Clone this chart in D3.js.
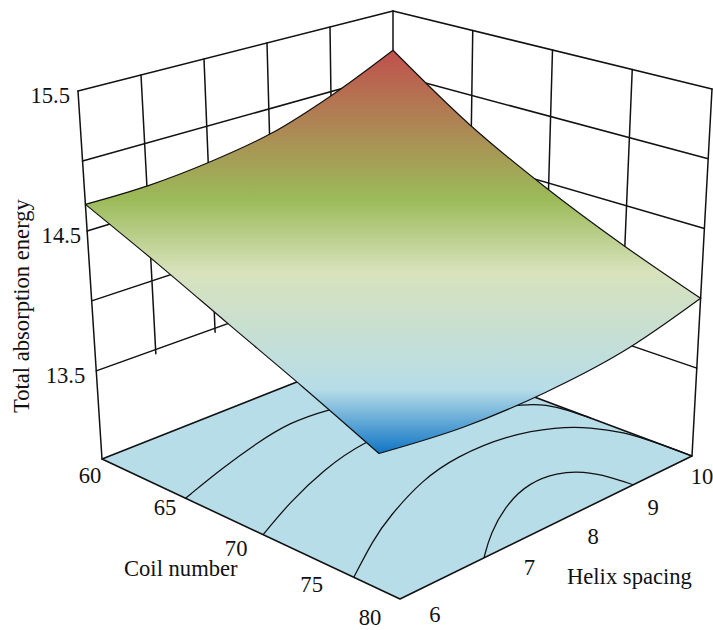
<!DOCTYPE html>
<html>
<head>
<meta charset="utf-8">
<script src="https://cdn.jsdelivr.net/npm/d3@7/dist/d3.min.js"></script>
<style>
  body { margin: 0; background: #fff; }
  text { font-family: "Liberation Serif", serif; font-size: 22.6px; fill: #111; }
</style>
</head>
<body>
<div id="viz-container"></div>
<script>
var coilTicks = [60, 65, 70, 75, 80];
var helixTicks = [6, 7, 8, 9, 10];
var helixGrid = [6, 6.8, 7.6, 8.4, 9.2, 10];
var energyGrid = [13.5, 14, 14.5, 15, 15.5];
var energyLabels = [15.5, 14.5, 13.5];

// surface height along its four edges
var edgeCoil60 = [14.69, 14.69, 14.73, 14.81, 14.97, 15.19]; // over helixGrid
var edgeHelix10 = [15.19, 14.77, 14.46, 14.21, 14.0];        // over coilTicks
var edgeCoil80 = [13.76, 13.72, 13.74, 13.82, 14.0];         // over helixTicks
var edgeHelix6 = [14.69, 14.44, 14.2, 13.98, 13.76];         // over coilTicks

// floor contours, [coil, helix]
var contourA = [[66.1, 6], [64.9, 6.68], [64, 7.29], [63.4, 7.84], [63.6, 8.31], [64.5, 9], [66, 10]];
var contourB = [[71.4, 6], [69.9, 6.61], [68.5, 7.32], [67.6, 8.03], [67.8, 8.7], [70, 9.8], [71.1, 9.94], [72.2, 9.99], [73.7, 10]];
var contourC = [[77.2, 6], [75.3, 6.62], [74.2, 7.05], [72.6, 7.82], [72, 8.42], [72.1, 9.12], [73.2, 9.61], [74.4, 9.83], [75.9, 9.97], [77.8, 10], [80, 10]];
var contourD = [[80, 7.06], [78.6, 7.45], [77.1, 8.01], [76.4, 8.48], [76.6, 8.82], [77.4, 9.02], [78.7, 9.1], [80, 9.12]];

// box corners on screen: left, front, right, back
var floorCorners = [[102, 459], [400, 599], [692, 456], [393, 344]];
var topCorners = [[78, 91], [397, 169], [712, 89], [393, 11]];

// label nudges from the axis point
var coilNudge = [[-12, 24], [-5, 24], [-6, 31], [-7, 31], [-30, 26]];
var helixNudge = [[35, 23], [50, 15], [39, 21], [28, 26], [10, 28]];
var energyNudge = [[-8, 12], [-6, 12], [-11, 12]];

var coilScale = d3.scaleLinear().domain([60, 80]).range([0, 1]);
var helixScale = d3.scaleLinear().domain([6, 10]).range([0, 1]);
var energyScale = d3.scaleLinear().domain([12.87, 15.5]).range([0, 1]);

// unit square -> quad
function makeHomography(q) {
	var dx1 = q[1][0] - q[2][0], dx2 = q[3][0] - q[2][0], sx = q[0][0] - q[1][0] + q[2][0] - q[3][0];
	var dy1 = q[1][1] - q[2][1], dy2 = q[3][1] - q[2][1], sy = q[0][1] - q[1][1] + q[2][1] - q[3][1];
	var det = dx1 * dy2 - dx2 * dy1;
	var g = (sx * dy2 - dx2 * sy) / det;
	var h = (dx1 * sy - sx * dy1) / det;
	return function(u, v) {
		var w = g * u + h * v + 1;
		return [
			((q[1][0] - q[0][0] + g * q[1][0]) * u + (q[3][0] - q[0][0] + h * q[3][0]) * v + q[0][0]) / w,
			((q[1][1] - q[0][1] + g * q[1][1]) * u + (q[3][1] - q[0][1] + h * q[3][1]) * v + q[0][1]) / w
		];
	};
}

var floorMap = makeHomography(floorCorners);
var topMap = makeHomography(topCorners);

function project(coil, helix, energy) {
	var u = coilScale(coil), v = helixScale(helix);
	var a = floorMap(u, v), b = topMap(u, v);
	var t = energy === undefined ? 0 : energyScale(energy);
	return [a[0] + (b[0] - a[0]) * t, a[1] + (b[1] - a[1]) * t];
}

// the surface's front corner sits left of the floor corner in the figure
function projectSurface(coil, helix, energy) {
	var p = project(coil, helix, energy);
	p[0] -= 20 * coilScale(coil) * (1 - helixScale(helix));
	return p;
}

// grid on the walls is evenly spaced between the wall's ends
function between(a, b, t) {
	return [a[0] + (b[0] - a[0]) * t, a[1] + (b[1] - a[1]) * t];
}
function leftWall(helix, energy) {
	return between(project(60, 6, energy), project(60, 10, energy), helixScale(helix));
}
function rightWall(coil, energy) {
	return between(project(60, 10, energy), project(80, 10, energy), coilScale(coil));
}

var svg = d3.select("#viz-container").append("svg")
	.attr("width", 713)
	.attr("height", 630)
	.style("display", "block");

var straight = d3.line();
var smooth = d3.line().curve(d3.curveCatmullRom.alpha(0.5));
var rounded = d3.line().curve(d3.curveBasis);

function wallLine(a, b, width) {
	svg.append("path")
		.attr("d", straight([a, b]))
		.attr("fill", "none")
		.attr("stroke", "#111")
		.attr("stroke-width", width)
		.attr("stroke-linecap", "round");
}

// walls, inner verticals run just past the 13.5 line
var gridBottom = 13.47;
energyGrid.forEach(function(e) {
	wallLine(project(60, 6, e), project(60, 10, e), 1.5);
	wallLine(project(60, 10, e), project(80, 10, e), 1.5);
});
helixGrid.forEach(function(h, i) {
	var bottom = (i == 0 || i == helixGrid.length - 1) ? undefined : gridBottom;
	wallLine(leftWall(h, bottom), leftWall(h, 15.5), 1.5);
});
coilTicks.forEach(function(c, i) {
	if (i == 0) return;
	var bottom = (i == coilTicks.length - 1) ? undefined : gridBottom;
	wallLine(rightWall(c, bottom), rightWall(c, 15.5), 1.5);
});

// floor
var floorPts = [project(60, 6), project(80, 6), project(80, 10), project(60, 10)];
svg.append("path")
	.attr("d", straight(floorPts) + "Z")
	.attr("fill", "#b7dde8")
	.attr("stroke", "#111")
	.attr("stroke-width", 1.6)
	.attr("stroke-linejoin", "round");

[contourA, contourB, contourC, contourD].forEach(function(c) {
	svg.append("path")
		.attr("d", rounded(c.map(function(p) { return project(p[0], p[1]); })))
		.attr("fill", "none")
		.attr("stroke", "#111")
		.attr("stroke-width", 1.25);
});

// surface
var backPt = projectSurface(60, 10, edgeHelix10[0]);
var frontPt = projectSurface(80, 6, edgeHelix6[4]);

var grad = svg.append("defs").append("linearGradient")
	.attr("id", "surfaceFill")
	.attr("gradientUnits", "userSpaceOnUse")
	.attr("x1", 0).attr("x2", 0)
	.attr("y1", backPt[1]).attr("y2", frontPt[1]);
[[0, "#c0504d"], [0.37, "#9bbb59"], [0.55, "#d8e2bc"], [0.84, "#b7dde8"], [1, "#0f75c4"]].forEach(function(s) {
	grad.append("stop").attr("offset", s[0]).attr("stop-color", s[1]);
});

var sides = [
	helixGrid.map(function(h, i) { return projectSurface(60, h, edgeCoil60[i]); }),
	coilTicks.map(function(c, i) { return projectSurface(c, 10, edgeHelix10[i]); }),
	helixTicks.map(function(h, i) { return projectSurface(80, h, edgeCoil80[i]); }).reverse(),
	coilTicks.map(function(c, i) { return projectSurface(c, 6, edgeHelix6[i]); }).reverse()
];
var surfacePath = "";
sides.forEach(function(side, i) {
	var d = smooth(side);
	surfacePath += i == 0 ? d : "L" + d.slice(1);
});
svg.append("path")
	.attr("d", surfacePath + "Z")
	.attr("fill", "url(#surfaceFill)")
	.attr("stroke", "#111")
	.attr("stroke-width", 1.2)
	.attr("stroke-linejoin", "round");

// labels
coilTicks.forEach(function(c, i) {
	var p = project(c, 6);
	svg.append("text").text(c)
		.attr("x", p[0] + coilNudge[i][0])
		.attr("y", p[1] + coilNudge[i][1])
		.attr("text-anchor", "middle");
});
helixTicks.forEach(function(h, i) {
	var p = project(80, h);
	svg.append("text").text(h)
		.attr("x", p[0] + helixNudge[i][0])
		.attr("y", p[1] + helixNudge[i][1])
		.attr("text-anchor", "middle");
});
energyLabels.forEach(function(e, i) {
	var p = project(60, 6, e);
	svg.append("text").text(e.toFixed(1))
		.attr("x", p[0] + energyNudge[i][0])
		.attr("y", p[1] + energyNudge[i][1])
		.attr("text-anchor", "end");
});

svg.append("text").text("Coil number").attr("x", 124).attr("y", 576);
svg.append("text").text("Helix spacing").attr("x", 567).attr("y", 584);
svg.append("text").text("Total absorption energy")
	.attr("transform", "translate(28.5,413) rotate(-90)");
</script>
</body>
</html>
